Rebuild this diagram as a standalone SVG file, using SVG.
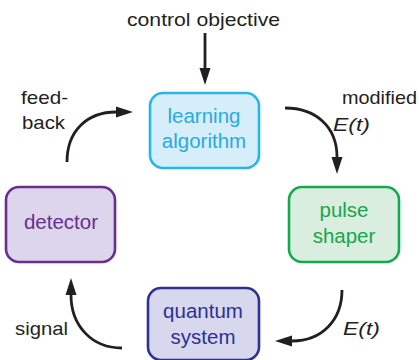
<svg xmlns="http://www.w3.org/2000/svg" width="419" height="360" viewBox="0 0 419 360">
  <style>
    .box { stroke-width: 2.6; }
    .lbl { font-family: "Liberation Sans", Arial, sans-serif; font-size: 20.5px; text-anchor: middle; }
    .txt { font-family: "Liberation Sans", Arial, sans-serif; font-size: 18.5px; fill: #231f20; }
    .it { font-style: italic; }
    .arc { fill: none; stroke: #231f20; stroke-width: 2.8; marker-end: url(#head); }
  </style>
  <defs>
    <marker id="head" markerUnits="userSpaceOnUse" markerWidth="18" markerHeight="12" refX="0" refY="6" orient="auto" overflow="visible">
      <path d="M0,0.5 L17,6 L0,11.5 z" fill="#231f20"/>
    </marker>
  </defs>
  <rect width="419" height="360" fill="#ffffff"/>

  <!-- nodes -->
  <g id="learning-algorithm">
    <rect class="box" x="150" y="93" width="109" height="75" rx="13" fill="#d5eef9" stroke="#27b5ea"/>
    <text class="lbl" x="204" y="123" fill="#29abe2">learning</text>
    <text class="lbl" x="204" y="148" fill="#29abe2">algorithm</text>
  </g>
  <g id="pulse-shaper">
    <rect class="box" x="289" y="187" width="110" height="75" rx="13" fill="#d9eedf" stroke="#13aa4f"/>
    <text class="lbl" x="344" y="217" fill="#16a64c">pulse</text>
    <text class="lbl" x="344" y="243" fill="#16a64c">shaper</text>
  </g>
  <g id="detector">
    <rect class="box" x="6" y="187" width="109" height="75" rx="13" fill="#ddd5eb" stroke="#6a2e91"/>
    <text class="lbl" x="61" y="229" fill="#6a2e91">detector</text>
  </g>
  <g id="quantum-system">
    <rect class="box" x="148" y="288" width="111" height="72" rx="13" fill="#d7d7ee" stroke="#2e3192"/>
    <text class="lbl" x="203" y="318" fill="#2e3192">quantum</text>
    <text class="lbl" x="203" y="344" fill="#2e3192">system</text>
  </g>

  <!-- connectors -->
  <g id="connectors">
    <path class="arc" d="M205,33 L205,68"/>
    <path class="arc" d="M67,162 C67,130 88,112 116,112"/>
    <path class="arc" d="M285,108 C316,108 337,127 337,157"/>
    <path class="arc" d="M342,290 C342,320 322,341 292,341"/>
    <path class="arc" d="M122,348 C92,348 71,326 71,295"/>
  </g>

  <!-- connector labels -->
  <g id="labels">
    <text class="txt" x="127" y="26" textLength="153" lengthAdjust="spacingAndGlyphs">control objective</text>
    <text class="txt" x="21" y="104" textLength="47" lengthAdjust="spacingAndGlyphs">feed-</text>
    <text class="txt" x="22" y="129" textLength="43" lengthAdjust="spacingAndGlyphs">back</text>
    <text class="txt" x="342" y="104" textLength="75" lengthAdjust="spacingAndGlyphs">modified</text>
    <text class="txt it" x="333" y="131" textLength="37" lengthAdjust="spacingAndGlyphs">E(t)</text>
    <text class="txt it" x="343" y="335" textLength="37" lengthAdjust="spacingAndGlyphs">E(t)</text>
    <text class="txt" x="15" y="335" textLength="53" lengthAdjust="spacingAndGlyphs">signal</text>
  </g>
</svg>
